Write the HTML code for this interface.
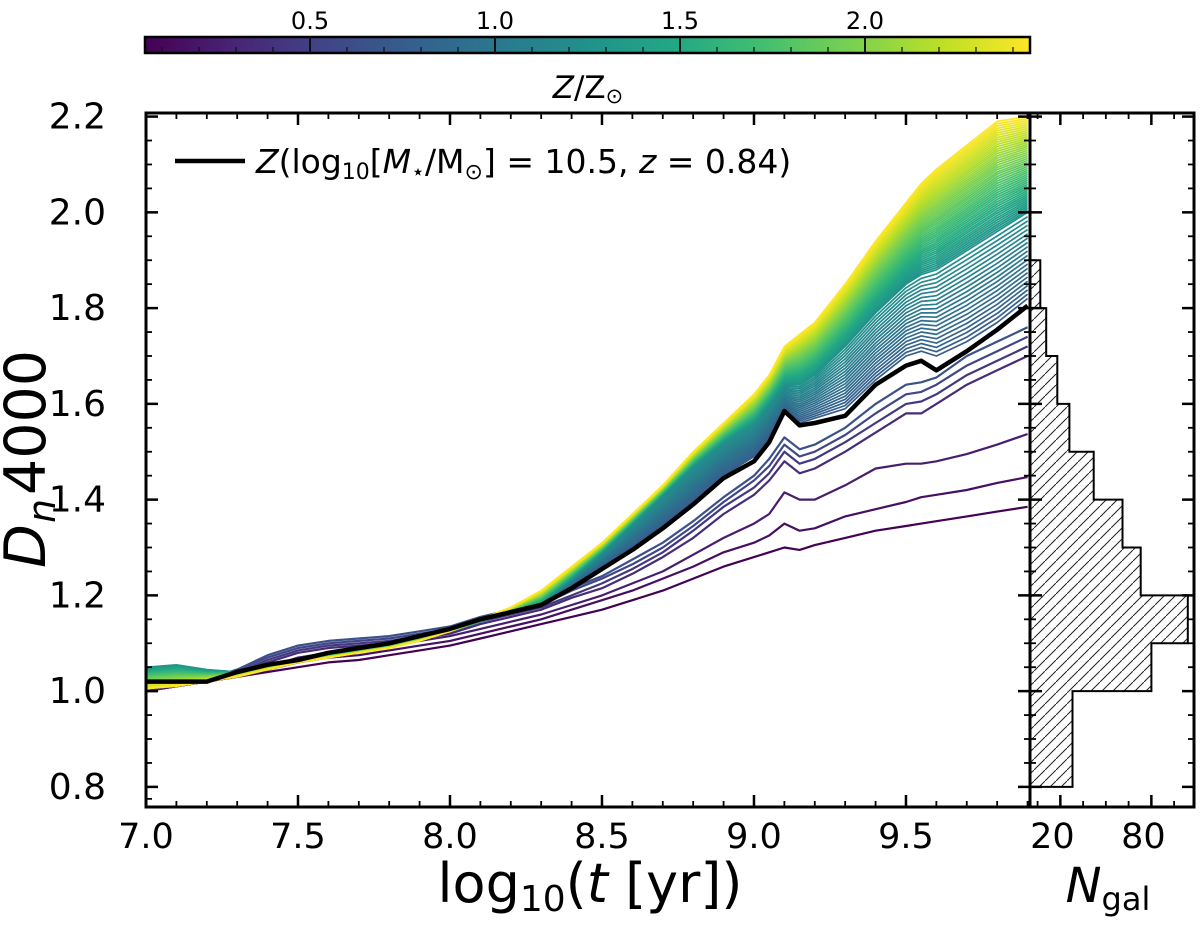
<!DOCTYPE html>
<html><head><meta charset="utf-8"><style>
html,body{margin:0;padding:0;background:#fff}
svg{display:block;font-family:"DejaVu Sans","Liberation Sans",sans-serif}
</style></head><body>
<svg id="fig" width="1200" height="931" viewBox="0 0 1200 931" xmlns="http://www.w3.org/2000/svg">
<defs>
<clipPath id="mainclip"><rect x="146" y="113" width="884" height="694"/></clipPath>
<pattern id="hatch" patternUnits="userSpaceOnUse" width="11" height="11">
<path d="M-2,13 L13,-2 M-3,2 L2,-3 M9,14 L14,9" stroke="#222" stroke-width="1"/>
</pattern>
</defs>
<g id="colorbar"></g>
<g id="main"></g>
<g id="hist"></g>
</svg>
<script>
// ---- data ----
const xs = [7.0,7.1,7.2,7.3,7.4,7.5,7.6,7.7,7.8,7.9,8.0,8.1,8.2,8.3,8.4,8.5,8.6,8.7,8.8,8.9,9.0,9.05,9.1,9.15,9.2,9.3,9.4,9.5,9.55,9.6,9.7,9.8,9.9];
const purpleZ = [0.06,0.15,0.25,0.35,0.45,0.55,0.65];
const purpleCurves = [
[1.00,1.01,1.02,1.03,1.04,1.05,1.06,1.065,1.075,1.085,1.095,1.11,1.125,1.14,1.155,1.17,1.19,1.21,1.235,1.26,1.28,1.29,1.30,1.295,1.305,1.32,1.335,1.345,1.35,1.355,1.365,1.375,1.385],
[1.00,1.01,1.02,1.03,1.045,1.06,1.07,1.075,1.085,1.095,1.105,1.12,1.135,1.15,1.17,1.19,1.21,1.235,1.26,1.29,1.31,1.325,1.35,1.335,1.34,1.365,1.38,1.395,1.405,1.41,1.42,1.435,1.447],
[1.00,1.01,1.02,1.035,1.05,1.07,1.08,1.085,1.095,1.105,1.115,1.13,1.145,1.16,1.18,1.20,1.225,1.25,1.285,1.32,1.35,1.37,1.415,1.40,1.40,1.43,1.465,1.475,1.475,1.48,1.495,1.515,1.537],
[1.01,1.02,1.02,1.04,1.06,1.08,1.09,1.095,1.10,1.11,1.12,1.14,1.155,1.17,1.195,1.215,1.245,1.28,1.32,1.37,1.41,1.44,1.48,1.455,1.465,1.50,1.54,1.58,1.58,1.60,1.64,1.67,1.70],
[1.01,1.02,1.02,1.04,1.065,1.085,1.095,1.10,1.105,1.115,1.125,1.145,1.16,1.175,1.20,1.225,1.255,1.29,1.335,1.385,1.425,1.455,1.50,1.475,1.485,1.52,1.56,1.60,1.605,1.62,1.66,1.69,1.72],
[1.01,1.02,1.025,1.045,1.07,1.09,1.10,1.105,1.11,1.12,1.13,1.15,1.165,1.18,1.21,1.235,1.265,1.30,1.345,1.395,1.44,1.47,1.515,1.49,1.50,1.535,1.58,1.62,1.625,1.64,1.68,1.71,1.74],
[1.01,1.02,1.025,1.045,1.075,1.095,1.105,1.11,1.115,1.125,1.135,1.155,1.17,1.185,1.215,1.24,1.275,1.31,1.355,1.405,1.45,1.485,1.53,1.505,1.515,1.55,1.60,1.64,1.645,1.655,1.70,1.73,1.76]
];
const anchorZ = [0.75,1.25,2.45];
const anchorLow = [1.02,1.02,1.02,1.04,1.055,1.065,1.075,1.085,1.10,1.115,1.13,1.15,1.165,1.18,1.22,1.26,1.30,1.345,1.395,1.45,1.49,1.53,1.58,1.56,1.57,1.59,1.65,1.70,1.71,1.70,1.73,1.77,1.82];
const anchorMid = [1.05,1.055,1.045,1.04,1.055,1.065,1.075,1.085,1.095,1.11,1.125,1.145,1.165,1.185,1.235,1.29,1.35,1.41,1.47,1.52,1.56,1.60,1.64,1.64,1.66,1.72,1.79,1.85,1.87,1.88,1.92,1.96,2.00];
const anchorTop = [1.005,1.01,1.02,1.03,1.045,1.06,1.07,1.08,1.09,1.105,1.125,1.15,1.175,1.21,1.26,1.31,1.37,1.43,1.50,1.56,1.62,1.66,1.72,1.745,1.77,1.85,1.94,2.02,2.06,2.09,2.14,2.19,2.20];
const blackCurve = [1.02,1.02,1.02,1.04,1.055,1.065,1.08,1.09,1.10,1.115,1.13,1.15,1.165,1.18,1.215,1.255,1.295,1.34,1.39,1.445,1.48,1.52,1.585,1.555,1.56,1.575,1.64,1.68,1.69,1.67,1.71,1.755,1.805];
const histBinLo = [0.8,0.9,1.0,1.1,1.2,1.3,1.4,1.5,1.6,1.7,1.8];
const histCounts = [28,28,80,104,73,61,42,26,18,10.7,6.8];
const xTicks = [7.0,7.5,8.0,8.5,9.0,9.5];
const yTicks = [0.8,1.0,1.2,1.4,1.6,1.8,2.0,2.2];
const cbTicks = [0.5,1.0,1.5,2.0];
const histTicks = [20,80];
const histMinor = [5,35,50,65,95];

// ---- scales ----
const X0=146, X1=1030, Y0=807, Y1=113;
const xmin=7.0, xmax=9.908, ymin=0.758, ymax=2.2075;
const sx = v => X0 + (v-xmin)/(xmax-xmin)*(X1-X0);
const sy = v => Y0 - (v-ymin)/(ymax-ymin)*(Y0-Y1);
const zmin=0.054, zmax=2.446, CB0=145, CB1=1030;
const sz = v => CB0 + (v-zmin)/(zmax-zmin)*(CB1-CB0);
const HX0=1030, HX1=1194;
const hx = c => HX0 + c*1.517;

const stops=["#440154","#482475","#414487","#355f8d","#2a788e","#21918c","#22a884","#44bf70","#7ad151","#bddf26","#fde725"];
function hex(h){return [1,3,5].map(i=>parseInt(h.substr(i,2),16));}
function viridis(t){t=Math.max(0,Math.min(1,t));const f=t*10,i=Math.min(9,Math.floor(f)),u=f-i;const a=hex(stops[i]),b=hex(stops[i+1]);return "rgb("+a.map((v,k)=>Math.round(v+(b[k]-v)*u)).join(",")+")";}
const zcol = z => viridis((z-zmin)/(zmax-zmin));

const NS="http://www.w3.org/2000/svg";
function mk(tag,attrs,parent){const e=document.createElementNS(NS,tag);for(const k in attrs)e.setAttribute(k,attrs[k]);parent.appendChild(e);return e;}
function pathFor(arr){return arr.map((v,i)=>(i?"L":"M")+sx(xs[i]).toFixed(1)+","+sy(v).toFixed(1)).join("");}

// ---- colorbar ----
const cb=document.getElementById('colorbar');
const grad=mk('linearGradient',{id:'vir',x1:'0',x2:'1',y1:'0',y2:'0'},document.querySelector('defs'));
stops.forEach((c,i)=>mk('stop',{offset:(i*10)+'%','stop-color':c},grad));
let r=mk('rect',{x:CB0,y:37,width:CB1-CB0,height:16,fill:'url(#vir)',stroke:'#000','stroke-width':2.5},cb);


for(let z=0.1;z<2.45;z+=0.1){const zz=Math.round(z*10)/10;const x=sz(zz);const major=cbTicks.some(t=>Math.abs(t-zz)<1e-6);
 const t=mk('line',{x1:x,x2:x,y1:major?37:47,y2:53,stroke:'#111','stroke-width':major?2:1.2},cb);
 
 }
cbTicks.forEach(v=>{const t=mk('text',{x:sz(v),y:29,'font-size':24,'text-anchor':'middle'},cb);t.textContent=v.toFixed(1);
 
 });
const cbt=mk('text',{x:588,y:98,'font-size':31,'text-anchor':'middle'},cb);
cbt.innerHTML='<tspan font-style="italic">Z</tspan>/Z<tspan font-size="21" baseline-shift="-25%">⊙</tspan>';



// ---- main plot ----
const main=document.getElementById('main');
const lines=mk('g',{'clip-path':'url(#mainclip)'},main);


purpleCurves.forEach((c,i)=>{const p=mk('path',{d:pathFor(c),fill:'none',stroke:zcol(purpleZ[i]),'stroke-width':2.2,'stroke-linejoin':'round'},lines);
 
 });
for(let z=anchorZ[0]; z<=anchorZ[2]+1e-9; z+=0.025){
 let arr;
 if(z<=anchorZ[1]){const u=(z-anchorZ[0])/(anchorZ[1]-anchorZ[0]);arr=anchorLow.map((v,i)=>v+(anchorMid[i]-v)*u);}
 else{const u=(z-anchorZ[1])/(anchorZ[2]-anchorZ[1]);arr=anchorMid.map((v,i)=>v+(anchorTop[i]-v)*u);}
 const p=mk('path',{d:pathFor(arr),fill:'none',stroke:zcol(z),'stroke-width':1.7,'stroke-linejoin':'round'},lines);
 
 
}
const bl=mk('path',{d:pathFor(blackCurve),fill:'none',stroke:'#000','stroke-width':4.5,'stroke-linejoin':'round'},lines);



const fr=mk('rect',{x:X0,y:Y1,width:X1-X0,height:Y0-Y1,fill:'none',stroke:'#000','stroke-width':3},main);


for(let k=0;k<=29;k++){const v=7+k*0.1;const x=sx(v);const major=k%5===0;const L=major?12:6;
 [[Y0,Y0-L],[Y1,Y1+L]].forEach(([a,b])=>{const t=mk('line',{x1:x,x2:x,y1:a,y2:b,stroke:'#000','stroke-width':major?2.5:1.8},main);
 
 });}
xTicks.forEach(v=>{const t=mk('text',{x:sx(v),y:848,'font-size':35,'text-anchor':'middle'},main);t.textContent=v.toFixed(1);
 
 });
for(let k=0;k<=29;k++){const v=0.8+k*0.05;if(v>ymax)break;const y=sy(v);const major=k%4===0;const L=major?12:6;
 [[X0,X0+L],[X1,X1-L]].forEach(([a,b])=>{const t=mk('line',{x1:a,x2:b,y1:y,y2:y,stroke:'#000','stroke-width':major?2.5:1.8},main);
 
 });}
[0.775].forEach(v=>{const y=sy(v);mk('line',{x1:X0,x2:X0+6,y1:y,y2:y,stroke:'#000','stroke-width':1.8},main);});
yTicks.forEach(v=>{const t=mk('text',{x:106,y:sy(v)+12,'font-size':36,'text-anchor':'end'},main);t.textContent=v.toFixed(1);
 
 });
const xt=mk('text',{x:590,y:902,'font-size':54,'text-anchor':'middle'},main);
xt.innerHTML='log<tspan font-size="36" baseline-shift="-25%">10</tspan>(<tspan font-style="italic">t</tspan> [yr])';


const ytg=mk('g',{transform:'translate(45,460) rotate(-90)'},main);


const yD=mk('text',{x:-108,y:0,'font-size':57,'font-style':'italic'},ytg);yD.textContent='D';
const yN=mk('text',{x:-63,y:10,'font-size':38,'font-style':'italic'},ytg);yN.textContent='n';
const y4=mk('text',{x:-35,y:0,'font-size':57},ytg);y4.textContent='4000';
const lg=mk('g',{},main);


mk('line',{x1:175,x2:245,y1:161,y2:161,stroke:'#000','stroke-width':4.5},lg);
const lt=mk('text',{x:256,y:173,'font-size':33},lg);
lt.innerHTML='<tspan font-style="italic">Z</tspan>(log<tspan font-size="22" baseline-shift="-25%">10</tspan>[<tspan font-style="italic">M</tspan><tspan font-size="22" baseline-shift="-25%">⋆</tspan>/M<tspan font-size="22" baseline-shift="-25%">⊙</tspan>] = 10.5, <tspan font-style="italic">z</tspan> = 0.84)';

// ---- histogram ----
const hg=document.getElementById('hist');
histBinLo.forEach((lo,i)=>{const yTop=sy(lo+0.1),yBot=sy(lo);
 const b=mk('rect',{x:HX0,y:yTop,width:hx(histCounts[i])-HX0,height:yBot-yTop,fill:'url(#hatch)',stroke:'none'},hg);
 
 });
let d='M'+HX0+','+sy(histBinLo[0]);
histBinLo.forEach((lo,i)=>{d+='L'+hx(histCounts[i]).toFixed(1)+','+sy(lo).toFixed(1)+'L'+hx(histCounts[i]).toFixed(1)+','+sy(lo+0.1).toFixed(1);});
d+='L'+HX0+','+sy(histBinLo[histBinLo.length-1]+0.1).toFixed(1);
const ol=mk('path',{d:d,fill:'none',stroke:'#000','stroke-width':2},hg);


const hf=mk('rect',{x:HX0,y:Y1,width:HX1-HX0,height:Y0-Y1,fill:'none',stroke:'#000','stroke-width':3},hg);


for(let k=0;k<=29;k++){const v=0.8+k*0.05;if(v>ymax)break;const y=sy(v);const major=k%4===0;const L=major?12:6;
 [[HX0,HX0+L],[HX1,HX1-L]].forEach(([a,b])=>{const t=mk('line',{x1:a,x2:b,y1:y,y2:y,stroke:'#000','stroke-width':major?2.5:1.8},hg);
 
 });}
histTicks.concat(histMinor).forEach(c=>{const major=histTicks.includes(c);const x=hx(c);const L=major?12:6;
 [[Y0,Y0-L],[Y1,Y1+L]].forEach(([a,b])=>{const t=mk('line',{x1:x,x2:x,y1:a,y2:b,stroke:'#000','stroke-width':major?2.5:1.8},hg);
 
 });});
histTicks.forEach(c=>{const t=mk('text',{x:hx(c)-8,y:848,'font-size':35,'text-anchor':'middle'},hg);t.textContent=c;
 
 });
const ht=mk('text',{x:1108,y:902,'font-size':48,'text-anchor':'middle'},hg);
ht.innerHTML='<tspan font-style="italic">N</tspan><tspan font-size="32" baseline-shift="-25%">gal</tspan>';


</script>
</body></html>
